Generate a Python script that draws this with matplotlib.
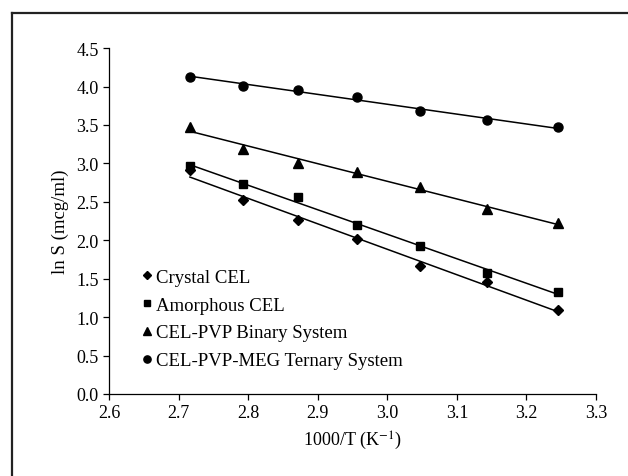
import matplotlib
matplotlib.use('Agg')
import matplotlib.pyplot as plt
from matplotlib.lines import Line2D
import numpy as np

plt.rcParams['font.family'] = ['Liberation Serif', 'DejaVu Serif']
plt.rcParams['mathtext.fontset'] = 'stix'

# 1000/T values (K^-1)
invT = [2.716, 2.792, 2.872, 2.957, 3.047, 3.143, 3.245]

# ln S values
crystal = [2.91, 2.52, 2.27, 2.01, 1.67, 1.46, 1.09]
amorphous = [2.96, 2.73, 2.56, 2.20, 1.92, 1.57, 1.33]
binary = [3.48, 3.19, 3.01, 2.89, 2.69, 2.41, 2.22]
ternary = [4.13, 4.01, 3.96, 3.87, 3.68, 3.56, 3.47]

labels = ['Crystal CEL', 'Amorphous CEL', 'CEL-PVP Binary System',
          'CEL-PVP-MEG Ternary System']
markers = ['D', 's', '^', 'o']
msizes = [5, 6, 7, 6.5]

xticks = [2.6, 2.7, 2.8, 2.9, 3.0, 3.1, 3.2, 3.3]
yticks = [0.0, 0.5, 1.0, 1.5, 2.0, 2.5, 3.0, 3.5, 4.0, 4.5]

fig = plt.figure(figsize=(6.28, 4.77), dpi=100)
ax = fig.add_axes([0.174, 0.172, 0.775, 0.725])

x = np.array(invT)
for ys, m, ms, lab in zip([crystal, amorphous, binary, ternary], markers, msizes, labels):
    ax.plot(x, ys, linestyle='none', marker=m, markersize=ms, color='black', label=lab)
    k, b = np.polyfit(x, ys, 1)
    ax.plot([x[0], x[-1]], [k*x[0]+b, k*x[-1]+b], color='black', linewidth=1.1)

ax.set_xlim(2.6, 3.3)
ax.set_ylim(0.0, 4.5)
ax.set_xticks(xticks)
ax.set_yticks(yticks)
ax.set_xticklabels(['%.1f' % v for v in xticks])
ax.set_yticklabels(['%.1f' % v for v in yticks])
ax.tick_params(direction='out', length=4, width=0.9, labelsize=13, colors='black')
for s in ['top', 'right']:
    ax.spines[s].set_visible(False)
for s in ['left', 'bottom']:
    ax.spines[s].set_linewidth(0.9)

ax.set_xlabel('1000/T (K$^{-1}$)', fontsize=13, labelpad=5)
ax.set_ylabel('ln S (mcg/ml)', fontsize=13.5, labelpad=5)

leg = ax.legend(loc='lower left', bbox_to_anchor=(0.052, 0.05), frameon=False,
                fontsize=13.5, handlelength=0.5, handletextpad=0.25,
                labelspacing=0.57, markerscale=0.8, borderaxespad=0)

# partial page frame (top and left edges)
fig.add_artist(Line2D([12/628, 1.0], [1-14/477, 1-14/477], color='#222222', linewidth=1.6))
fig.add_artist(Line2D([12/628, 12/628], [0.0, 1-14/477], color='#222222', linewidth=1.6))

fig.savefig('out.png', dpi=100)
